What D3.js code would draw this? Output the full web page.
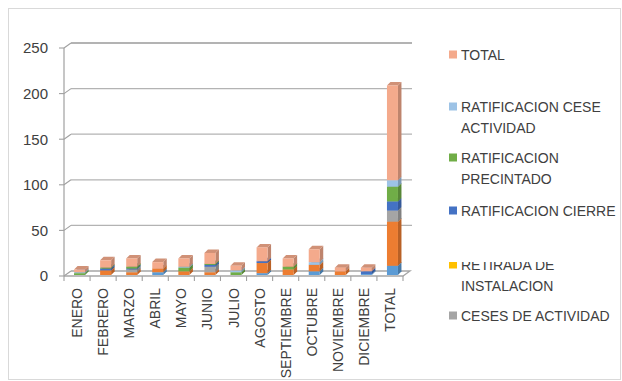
<!DOCTYPE html>
<html><head><meta charset="utf-8">
<script src="https://cdn.jsdelivr.net/npm/d3@7"></script>
<style>html,body{margin:0;padding:0;background:#fff;}svg{display:block;font-family:"Liberation Sans",Arial,sans-serif;}</style>
</head><body><svg id="c" width="622" height="381"></svg>
<script>
// ---- data ----
const categories = ["ENERO","FEBRERO","MARZO","ABRIL","MAYO","JUNIO","JULIO","AGOSTO","SEPTIEMBRE","OCTUBRE","NOVIEMBRE","DICIEMBRE","TOTAL"];
const serie1 = [0,0,0,3,0,0,0,2,0,4,0,1,10];
const serie2 = [0,5,3,4,4,3,0,11,6,7,4,0,48];
const cesesActividad = [0,0,3,0,0,6,0,0,0,0,0,0,12];
const retiradaInstalacion = [0,0,0,0,0,0,0,0,0,0,0,0,0];
const ratificacionCierre = [0,2,1,0,0,2,0,2,0,0,0,3,10];
const ratificacionPrecintado = [2,1,2,0,4,1,3,0,3,0,0,0,16];
const ratificacionCeseActividad = [1,0,0,0,1,0,2,0,0,3,0,0,7];
const total = [3,8,9,7,9,12,5,15,9,14,4,4,103];
const yTicks = [0,50,100,150,200,250];

const seriesValues = [serie1, serie2, cesesActividad, retiradaInstalacion, ratificacionCierre, ratificacionPrecintado, ratificacionCeseActividad, total];
const seriesColors = ["#5B9BD5","#ED7D31","#A5A5A5","#FFC000","#4472C4","#70AD47","#9DC3E6","#F4AA8C"];
const legendItems = [
  {lines:["TOTAL"], s:7, y:55},
  {lines:["RATIFICACION CESE","ACTIVIDAD"], s:6, y:107},
  {lines:["RATIFICACION","PRECINTADO"], s:5, y:158},
  {lines:["RATIFICACION CIERRE"], s:4, y:211},
  {lines:["RETIRADA DE","INSTALACION"], s:3, y:265, clip:true},
  {lines:["CESES DE ACTIVIDAD"], s:2, y:316}
];

const svg = d3.select("#c");
// outer frame
svg.append("rect").attr("x",8.5).attr("y",8.5).attr("width",612).attr("height",371)
  .attr("fill","none").attr("stroke","#d9d9d9");

const DX = 7, DY = 5;
const yAxis = d3.scaleLinear().domain([0,250]).range([276,48]);
const yBar = d3.scaleLinear().domain([0,250]).range([275,45]);
const x = d3.scaleBand().domain(categories).range([64,403]).padding(0);

const gridColor = "#b3b3b3";
// back wall gridlines + diagonals
yTicks.forEach(t => {
  const yy = yAxis(t);
  if (t > 0) svg.append("line").attr("x1",64+DX).attr("x2",412).attr("y1",yy-DY).attr("y2",yy-DY)
    .attr("stroke", t===250 ? "#9a9a9a" : gridColor).attr("stroke-width",1.3);
  svg.append("line").attr("x1",64).attr("y1",yy).attr("x2",64+DX).attr("y2",yy-DY)
    .attr("stroke","#a0a0a0").attr("stroke-width",1.1);
  svg.append("line").attr("x1",59).attr("x2",64).attr("y1",yy).attr("y2",yy)
    .attr("stroke","#a0a0a0").attr("stroke-width",1.1);
  svg.append("text").attr("x",48).attr("y",yy).attr("dy","0.36em").attr("text-anchor","end")
    .attr("font-size",15).attr("fill","#404040").text(t);
});
// floor
svg.append("path").attr("d",`M64,276 L403,276 L410,271 L71,271`).attr("fill","none")
  .attr("stroke","#a6a6a6").attr("stroke-width",1.3);
// left axis
svg.append("line").attr("x1",64).attr("x2",64).attr("y1",yAxis(250)).attr("y2",276)
  .attr("stroke","#a0a0a0").attr("stroke-width",1.2);
// category ticks
categories.concat([null]).forEach((c,i) => {
  const xx = 64 + i*x.bandwidth();
  svg.append("line").attr("x1",xx).attr("x2",xx).attr("y1",276).attr("y2",281)
    .attr("stroke","#a0a0a0").attr("stroke-width",1.1);
});

// bars
const bw = 11, bd = 3.5;
categories.forEach((c,i) => {
  const x0 = x(c) + x.bandwidth()/2 - 3, x1 = x0 + bw;
  let acc = 0;
  seriesValues.forEach((vals, s) => {
    const v = vals[i];
    if (!v) return;
    const yb = yBar(acc), yt = yBar(acc + v);
    acc += v;
    const col = d3.color(seriesColors[s]);
    const g = svg.append("g");
    g.append("path").attr("d",`M${x1},${yb} L${x1+bd},${yb-bd} L${x1+bd},${yt-bd} L${x1},${yt} Z`)
      .attr("fill", col.darker(0.7));
    g.append("path").attr("d",`M${x0},${yt} L${x0+bd},${yt-bd} L${x1+bd},${yt-bd} L${x1},${yt} Z`)
      .attr("fill", col.darker(0.45));
    g.append("rect").attr("x",x0).attr("y",yt).attr("width",bw).attr("height",yb-yt).attr("fill",col);
  });
});

// category labels
categories.forEach(c => {
  const cx = x(c) + x.bandwidth()/2 + 5;
  svg.append("text").attr("transform",`translate(${cx},288) rotate(-90)`)
    .attr("text-anchor","end").attr("font-size",14).attr("fill","#404040").text(c);
});

// legend
const defs = svg.append("defs");
defs.append("clipPath").attr("id","legclip").append("rect").attr("x",440).attr("y",262).attr("width",180).attr("height",60);
legendItems.forEach(it => {
  const g = svg.append("g");
  if (it.clip) g.attr("clip-path","url(#legclip)");
  g.append("rect").attr("x",449).attr("y",it.y-4.5).attr("width",8).attr("height",8).attr("fill",seriesColors[it.s]);
  it.lines.forEach((l,k) => {
    g.append("text").attr("x",461).attr("y",it.y + k*21).attr("dy","0.36em")
      .attr("font-size",14).attr("fill","#404040").text(l);
  });
});
</script></body></html>
